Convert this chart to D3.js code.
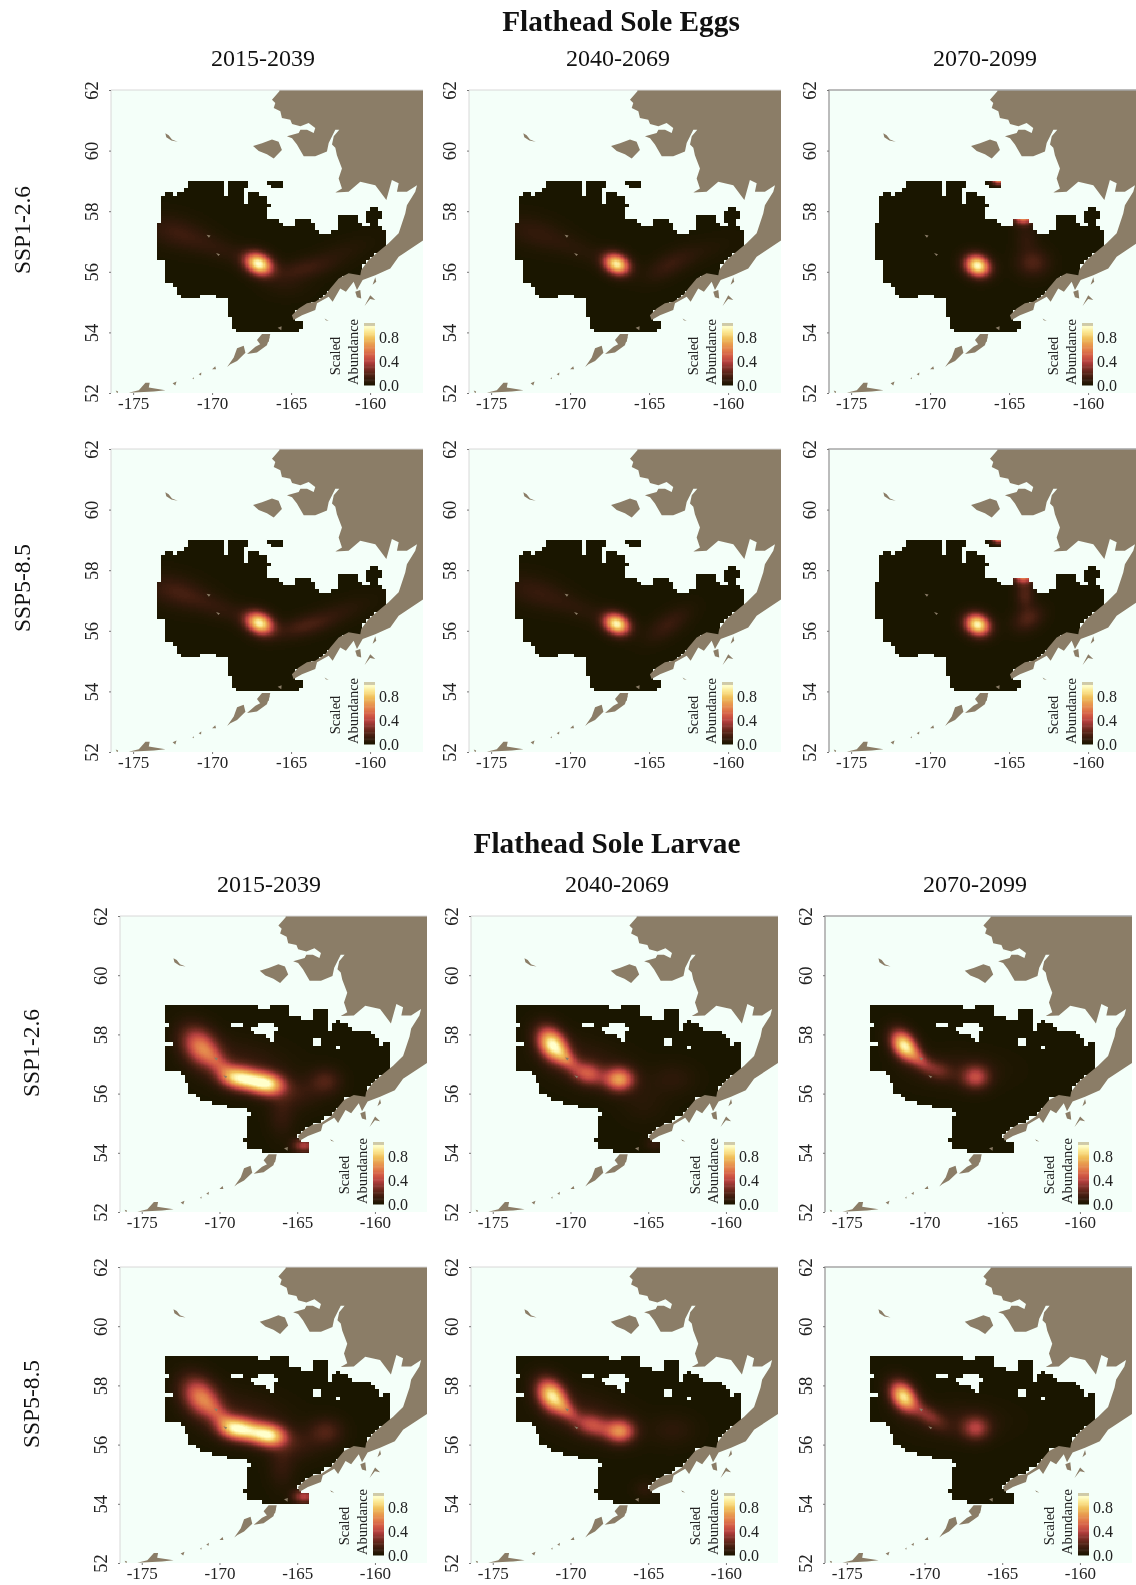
<!DOCTYPE html>
<html>
<head>
<meta charset="UTF-8">
<title>Flathead Sole</title>
<script src="https://cdn.jsdelivr.net/npm/d3@7"></script>
<style>
  html, body { margin: 0; background: #fff; }
  svg { display: block; filter: blur(0.4px); font-family: "Liberation Serif", serif; }
</style>
</head>
<body>
<div id="chart"></div>
<script>
const periods = ["2015-2039", "2040-2069", "2070-2099"];
const scenarios = ["SSP1-2.6", "SSP5-8.5"];
const lonTicks = [-175, -170, -165, -160];
const latTicks = [52, 54, 56, 58, 60, 62];
const legendTicks = [0, 0.4, 0.8];

// colours of the bar, low to high
const rampColours = ["#1a1600", "#33190b", "#552416", "#82302a", "#b5413f", "#d35a45", "#e17c4b", "#e89e50", "#f0c05a", "#fbe58e", "#ffffcc"];

// land, lon/lat
const mainland = [[-165.74,62.2],[-165.74,61.96],[-166.21,61.68],[-166,61.57],[-166.1,61.41],[-165.68,61.3],[-165.58,61.08],[-165.05,61.02],[-164.94,60.88],[-164.41,60.8],[-163.89,60.91],[-163.47,60.75],[-163.57,60.58],[-163.99,60.69],[-164.41,60.69],[-164.52,60.58],[-165.26,60.47],[-164.94,60.41],[-164.63,60.2],[-164.2,59.81],[-163.47,59.81],[-162.73,59.97],[-162.62,60.25],[-162.2,60.69],[-161.95,60.69],[-162.3,60.47],[-162.41,60.2],[-162.2,60.09],[-162.1,59.85],[-161.78,59.41],[-161.99,59.08],[-161.78,58.75],[-162.2,58.62],[-161.36,58.64],[-160.62,58.97],[-159.67,58.86],[-158.97,58.37],[-158.62,59.03],[-158.19,58.92],[-158.3,58.64],[-157.67,58.64],[-157.03,58.86],[-157.14,58.64],[-157.67,58.2],[-157.77,57.93],[-158.19,57.27],[-158.83,56.94],[-159.46,56.67],[-160.09,56.39],[-160.56,56.06],[-160.62,55.89],[-161.36,55.95],[-161.99,55.78],[-162.52,55.45],[-162.84,55.23],[-163.47,55.01],[-164,54.96],[-164.52,54.79],[-164.95,54.57],[-164.84,54.41],[-164.31,54.57],[-163.47,54.74],[-163.36,54.96],[-162.62,55.18],[-162.37,55.01],[-161.89,55.45],[-161.53,55.34],[-161.04,55.67],[-160.83,55.4],[-160.47,55.73],[-159.67,55.89],[-158.72,56.11],[-158.19,56.5],[-156.61,57.05],[-156,57.2],[-156,62.2]];
const islands = [
  [[-172.96,60.57],[-172.75,60.51],[-172.54,60.37],[-172.18,60.29],[-172.58,60.33],[-172.9,60.44]],
  [[-167.41,60.15],[-166.84,60.24],[-166.21,60.37],[-165.79,60.29],[-165.58,60.02],[-166.1,59.74],[-166.53,59.88],[-167.05,59.99]],
  [[-167.16,53.75],[-166.84,53.95],[-166.32,53.95],[-166.42,53.69],[-166.91,53.58]],
  [[-169.05,52.86],[-168.63,53.17],[-168.42,53.48],[-168,53.56],[-167.89,53.33],[-168.42,53.06],[-168.84,52.95]],
  [[-167.79,53.29],[-167.26,53.53],[-166.84,53.64],[-166.36,53.85],[-166.53,53.58],[-167.16,53.34]],
  [[-175.28,52.01],[-174.64,52.09],[-174.22,52.34],[-173.95,52.34],[-174.01,52.18],[-172.95,52.09],[-173.69,52.05]],
  [[-176.1,52.08],[-175.95,52.05],[-176.0,51.98]],
  [[-172.5,52.32],[-172.25,52.38],[-172.33,52.25]],
  [[-170.85,52.62],[-170.68,52.68],[-170.7,52.58]],
  [[-170.0,52.78],[-169.8,52.88],[-169.75,52.78]],
  [[-171.25,52.48],[-171.15,52.52],[-171.17,52.45]],
  [[-165.85,54.15],[-165.6,54.2],[-165.62,54.07]],
  [[-160.94,55.34],[-160.62,55.4],[-160.56,55.12],[-160.83,55.16]],
  [[-159.84,55.57],[-159.67,55.82],[-159.61,55.67]],
  [[-160.35,54.87],[-159.99,55.23],[-159.67,55.07],[-160,55.1]],
  [[-162.88,54.46],[-162.62,54.38],[-162.8,54.4]],
  [[-170.35,57.22],[-170.1,57.2],[-170.2,57.12]],
  [[-169.75,56.62],[-169.5,56.58],[-169.6,56.52]]
];

// model area, outlines of the gridded cells
const eggsArea = [
  [[-173.54,57.54],[-173.28,57.6],[-173.12,57.76],[-173.33,57.92],[-173.33,58.15],[-173.12,58.53],[-172.76,58.62],[-172.33,58.51],[-171.91,58.64],[-171.49,58.77],[-171.39,59],[-169.32,59],[-169.32,58.55],[-169.07,58.55],[-168.96,59],[-167.84,59],[-167.9,58.59],[-168.16,58.22],[-167.88,58.22],[-167.76,58.59],[-167.17,58.64],[-166.53,58.47],[-166.43,58.25],[-166.28,58.2],[-166.49,58.09],[-166.47,57.76],[-166.11,57.78],[-165.48,57.54],[-164.85,57.45],[-164.74,57.71],[-164.32,57.82],[-163.9,57.71],[-163.47,57.49],[-163.26,57.32],[-162.73,57.27],[-161.99,57.38],[-161.89,57.87],[-160.83,57.93],[-160.66,57.6],[-160.09,57.52],[-160.24,57.98],[-159.78,58.12],[-159.35,57.98],[-159.4,57.54],[-159.04,57.27],[-158.89,56.94],[-159.04,56.77],[-159.99,56.5],[-160.62,56.06],[-160.62,55.82],[-161.78,55.84],[-162.31,55.45],[-163.36,55.01],[-164.63,54.74],[-164.94,54.46],[-164.27,54.35],[-164.27,54.08],[-165.47,54.02],[-166.74,54],[-168.54,54.02],[-168.96,54.57],[-169.02,55.17],[-169.49,55.12],[-170.44,55.32],[-171.07,55.12],[-171.6,55.12],[-172.12,55.23],[-172.33,55.5],[-172.97,55.65],[-172.9,55.94],[-173.03,56.31],[-173.54,56.44]],
  [[-166.48,59],[-165.43,59],[-165.68,58.72],[-166.32,58.72]]
];
const eggsHoles = [];
const larvaeArea = [
  [[-173.51,59],[-169.5,59],[-168.96,58.95],[-166.7,58.93],[-166.49,59],[-165.41,59],[-165.41,58.64],[-164.55,58.53],[-163.9,58.48],[-163.9,58.9],[-163.25,58.93],[-162.93,58.64],[-162.87,58.02],[-162.82,58.25],[-162.39,58.48],[-161.75,58.36],[-161.21,58.08],[-160.45,58.11],[-159.91,58.02],[-159.85,57.69],[-160.13,57.52],[-158.94,57.8],[-158.88,56.79],[-159.7,56.56],[-160.56,56.11],[-160.56,55.83],[-161.85,55.89],[-162.39,55.49],[-163.58,55.04],[-164.76,54.76],[-164.98,54.48],[-164.22,54.36],[-164.29,54.03],[-165.84,54.03],[-166.92,54],[-168.32,54.2],[-168.43,54.48],[-168.21,54.76],[-168.21,55.21],[-167.67,55.38],[-168.43,55.46],[-169.5,55.55],[-171.01,55.77],[-171.66,56],[-171.98,56.05],[-172.09,56.39],[-172.63,56.73],[-173.51,56.76]]
];
const larvaeHoles = [
  [[-168.1,58.19],[-167.46,58.27],[-167.24,58.42],[-166.16,58.27],[-166.49,58.08],[-166.38,57.74],[-165.52,57.66],[-166.7,57.8],[-167.24,58.02],[-168.1,58.11]],
  [[-169.3,58.25],[-168.6,58.25],[-168.6,58.38],[-169.3,58.38]],
  [[-163.92,57.68],[-163.55,57.68],[-163.55,57.84],[-163.92,57.84]],
  [[-162.62,57.5],[-162.26,57.5],[-162.26,57.65],[-162.62,57.65]],
  [[-173.6,57.62],[-173,57.62],[-173,57.72],[-173.6,57.72]],
  [[-173.6,58.26],[-173.3,58.26],[-173.3,58.36],[-173.6,58.36]]
];

// abundance peaks: lon, lat, value, spread along, spread across, tilt
const eggs126a = [[-167.05,56.26,.98,.62,.46,-25],[-172.3,57.3,.11,1.4,.7,-15],[-169.5,56.75,.07,1.8,.5,-20],[-164.2,56.1,.11,1.3,.45,10],[-162,56.6,.05,1.6,.5,20],[-165.3,55.6,.05,1,.6,0]];
const eggs126b = [[-167.05,56.25,.92,.58,.44,-25],[-172.3,57.3,.08,1.4,.7,-15],[-169.5,56.75,.05,1.8,.5,-20],[-163.8,56.2,.1,1.1,.5,30],[-162,56.6,.04,1.6,.5,20]];
const eggs126c = [[-167,56.2,.98,.56,.46,-25],[-163.5,56.3,.18,.7,.6,0],[-163.9,57.1,.08,.5,.6,0],[-164.1,57.85,.75,.42,.36,0],[-165.65,59.05,.75,.3,.22,0]];
const eggs585a = [[-167,56.25,.93,.62,.46,-25],[-172.3,57.3,.13,1.4,.7,-15],[-169.5,56.75,.08,1.8,.5,-20],[-164.2,56.15,.14,1.3,.45,15],[-162,56.6,.06,1.6,.5,20]];
const eggs585b = [[-167.05,56.22,.95,.58,.44,-25],[-172.3,57.3,.09,1.4,.7,-15],[-169.5,56.75,.06,1.8,.5,-20],[-163.8,56.2,.12,1.1,.5,35]];
const eggs585c = [[-167,56.2,.96,.56,.46,-25],[-163.8,56.4,.18,.7,.5,30],[-164,57.2,.18,.4,.6,0],[-164.1,57.85,.68,.42,.36,0],[-165.65,59.05,.68,.3,.22,0]];

const larvae126a = [[-171.2,57.57,.58,1,.72,-50],[-168.8,56.53,.8,.8,.52,-8],[-166.9,56.32,.86,.75,.52,-8],[-167.85,56.43,.26,.6,.5,-8],[-170,57,.22,.8,.42,-45],[-168.5,57,.1,2,1,-10],[-163.2,56.41,.18,.7,.6,0],[-165,56,.1,1,.7,0],[-166,55.3,.1,.6,1,0],[-164.55,54.25,.38,.5,.32,0]];
const larvae126b = [[-171.15,57.65,.96,.82,.58,-55],[-168.9,56.67,.42,.7,.5,-15],[-166.86,56.48,.66,.66,.54,0],[-170.2,57.15,.3,.6,.36,-45],[-163.4,56.5,.07,1,.7,0],[-169,57,.1,2,1,-15],[-165.3,55.7,.05,1,.9,0],[-164.6,54.3,.1,.4,.3,0]];
const larvae126c = [[-171.3,57.62,.94,.72,.5,-55],[-169.2,56.8,.2,.7,.42,-20],[-166.7,56.55,.4,.62,.54,0],[-170.3,57.15,.28,.6,.36,-45],[-168,56.8,.08,2,.8,0]];
const larvae585a = [[-171.2,57.6,.58,1,.72,-50],[-168.9,56.54,.86,.8,.52,-8],[-166.8,56.31,.88,.75,.52,-8],[-167.85,56.43,.26,.6,.5,-8],[-170,57,.22,.8,.42,-45],[-168.5,57,.1,2,1,-10],[-163.15,56.43,.18,.75,.62,0],[-165,56,.1,1,.7,0],[-166,55.3,.1,.6,1,0],[-164.55,54.25,.4,.5,.32,0]];
const larvae585b = [[-171.2,57.65,.88,.8,.58,-55],[-168.6,56.65,.38,.8,.5,-15],[-166.8,56.45,.6,.66,.54,0],[-170.2,57.15,.28,.6,.36,-45],[-163.4,56.5,.07,1,.7,0],[-169,57,.1,2,1,-15],[-165.2,54.5,.07,.5,.4,0]];
const larvae585c = [[-171.35,57.62,.88,.72,.52,-55],[-169.8,57,.26,.9,.4,-35],[-166.7,56.55,.36,.62,.54,0],[-168,56.8,.08,2,.8,0]];

const width = 1136, height = 1585;
const lonDomain = [-176.4, -156.65], latDomain = [52, 62];
const lonStep = 0.25, latStep = 0.125, sub = 3;

const blocks = [
  {title: "Flathead Sole Eggs", titleX: 621, titleY: 31, colY: 66,
   colX: [263, 618, 985], area: eggsArea, holes: eggsHoles,
   left: [111, 469, 829], widths: 312, labelX: 22,
   rows: [{top: 90, bottom: 393, labelY: 230, panels: [eggs126a, eggs126b, eggs126c]},
          {top: 449, bottom: 752, labelY: 588, panels: [eggs585a, eggs585b, eggs585c]}]},
  {title: "Flathead Sole Larvae", titleX: 607, titleY: 853, colY: 892,
   colX: [269, 617, 975], area: larvaeArea, holes: larvaeHoles,
   left: [120, 471, 825], widths: 307, labelX: 31,
   rows: [{top: 916, bottom: 1212, labelY: 1053, panels: [larvae126a, larvae126b, larvae126c]},
          {top: 1267, bottom: 1563, labelY: 1404, panels: [larvae585a, larvae585b, larvae585c]}]}
];

const colour = d3.scaleLinear().domain(d3.range(rampColours.length).map(d => d / 10)).range(rampColours).clamp(true);

function field(peaks, lon, lat) {
  let v = 0;
  for (const p of peaks) {
    const a = p[5] * Math.PI / 180, dx = lon - p[0], dy = (lat - p[1]) * 1.92;
    const u = (dx * Math.cos(a) + dy * Math.sin(a)) / p[3];
    const w = (-dx * Math.sin(a) + dy * Math.cos(a)) / p[4];
    v += p[2] * Math.exp(-0.5 * (u * u + w * w));
  }
  return Math.min(v, 1);
}

function inArea(area, holes, lon, lat) {
  return area.some(a => d3.polygonContains(a, [lon, lat])) && !holes.some(h => d3.polygonContains(h, [lon, lat]));
}

const svg = d3.select("#chart").append("svg").attr("width", width).attr("height", height);
const line = d3.line().curve(d3.curveLinearClosed);
let clipId = 0;

function drawPanel(block, row, c) {
  const x = d3.scaleLinear().domain(lonDomain).range([block.left[c], block.left[c] + block.widths]);
  const y = d3.scaleLinear().domain(latDomain).range([row.bottom, row.top]);
  const id = "clip" + (clipId++);
  svg.append("clipPath").attr("id", id).append("rect")
    .attr("x", x.range()[0]).attr("y", row.top).attr("width", block.widths).attr("height", row.bottom - row.top);
  const g = svg.append("g");
  const map = g.append("g").attr("clip-path", "url(#" + id + ")");
  map.append("rect").attr("x", x.range()[0]).attr("y", row.top).attr("width", block.widths).attr("height", row.bottom - row.top).attr("fill", "#f4fff9");

  // abundance surface, one path per colour step
  const peaks = row.panels[c];
  const bins = new Map();
  const xEdge = i => Math.round(x(-176 + i * lonStep / sub));
  const yEdge = j => Math.round(y(53.75 + j * latStep / sub));
  for (let ci = 0; ci < 80; ci++) {
    const lon0 = -176 + ci * lonStep;
    for (let cj = 0; cj < 44; cj++) {
      const lat0 = 53.75 + cj * latStep;
      if (!inArea(block.area, block.holes, lon0 + lonStep / 2, lat0 + latStep / 2)) continue;
      for (let a = 0; a < sub; a++) for (let b = 0; b < sub; b++) {
        const ii = ci * sub + a, jj = cj * sub + b;
        const v = field(peaks, -176 + (ii + 0.5) * lonStep / sub, 53.75 + (jj + 0.5) * latStep / sub);
        const k = Math.round(v * 100);
        if (!bins.has(k)) bins.set(k, d3.path());
        const w = xEdge(ii + 1) - xEdge(ii), h = yEdge(jj) - yEdge(jj + 1);
        if (w > 0 && h > 0) bins.get(k).rect(xEdge(ii), yEdge(jj + 1), w, h);
      }
    }
  }
  map.selectAll("path.cell").data([...bins.entries()]).join("path").attr("class", "cell")
    .attr("d", d => d[1].toString()).attr("fill", d => colour(d[0] / 100)).attr("shape-rendering", "crispEdges");

  const toPx = pts => line(pts.map(p => [x(p[0]), y(p[1])]));
  map.selectAll("path.land").data([mainland].concat(islands)).join("path").attr("class", "land")
    .attr("d", toPx).attr("fill", "#8b7d67");

  // frame, only the left and top sides show in the picture
  const edge = c === 2 ? "#a6a6a6" : "#d8d8d8";
  g.append("path").attr("d", `M${x.range()[0]},${row.bottom}V${row.top}H${x.range()[1]}`).attr("fill", "none").attr("stroke", edge).attr("stroke-width", c === 2 ? 1.5 : 1);

  // axes
  const xAxis = g.append("g").attr("transform", `translate(0,${row.bottom})`)
    .call(d3.axisBottom(x).tickValues(lonTicks).tickSize(2).tickPadding(2).tickFormat(String));
  const yAxis = g.append("g").attr("transform", `translate(${x.range()[0]},0)`)
    .call(d3.axisLeft(y).tickValues(latTicks).tickSize(2).tickFormat(String));
  xAxis.select(".domain").remove();
  yAxis.select(".domain").remove();
  xAxis.selectAll("line").attr("stroke", "#777");
  yAxis.selectAll("line").attr("stroke", "#777");
  xAxis.selectAll("text").attr("font-family", "Liberation Serif").attr("font-size", 17).attr("fill", "#222");
  yAxis.selectAll("text").attr("font-family", "Liberation Serif").attr("font-size", 18.5).attr("fill", "#222")
    .attr("text-anchor", "middle").attr("dy", 0).attr("x", 0)
    .attr("transform", "translate(-13,0) rotate(-90)");

  // colour bar
  const barX = x.range()[0] + 253, barW = 11;
  const barY = d3.scaleLinear().domain([0, 1.05]).range([row.bottom - 8, row.bottom - 70]);
  g.selectAll("rect.bar").data(d3.range(0, 1, 0.02)).join("rect").attr("class", "bar")
    .attr("x", barX).attr("width", barW)
    .attr("y", d => barY(d + 0.02)).attr("height", d => barY(d) - barY(d + 0.02) + 0.5)
    .attr("fill", d => colour(d + 0.01));
  g.append("rect").attr("x", barX).attr("width", barW).attr("y", barY(1.05)).attr("height", barY(1) - barY(1.05)).attr("fill", "#cfcaa8");
  const legendAxis = g.append("g").attr("transform", `translate(${barX + barW},0)`)
    .call(d3.axisRight(barY).tickValues(legendTicks).tickSize(0).tickPadding(4).tickFormat(d3.format(".1f")));
  legendAxis.select(".domain").remove();
  legendAxis.selectAll("text").attr("font-family", "Liberation Serif").attr("font-size", 16).attr("fill", "#222");
  g.append("text").attr("transform", `translate(${x.range()[0] + 224},${row.bottom - 37}) rotate(-90)`)
    .attr("text-anchor", "middle").attr("dy", "0.35em").attr("font-size", 14.5).attr("fill", "#222").text("Scaled");
  g.append("text").attr("transform", `translate(${x.range()[0] + 242},${row.bottom - 41}) rotate(-90)`)
    .attr("text-anchor", "middle").attr("dy", "0.35em").attr("font-size", 14.5).attr("fill", "#222").text("Abundance");
}

blocks.forEach(block => {
  svg.append("text").attr("x", block.titleX).attr("y", block.titleY).attr("text-anchor", "middle")
    .attr("font-size", 29.3).attr("font-weight", "bold").attr("fill", "#111").text(block.title);
  periods.forEach((p, c) => {
    svg.append("text").attr("x", block.colX[c]).attr("y", block.colY).attr("text-anchor", "middle")
      .attr("font-size", 24).attr("fill", "#111").text(p);
  });
  block.rows.forEach((row, r) => {
    svg.append("text").attr("transform", `translate(${block.labelX},${row.labelY}) rotate(-90)`)
      .attr("text-anchor", "middle").attr("dy", "0.35em").attr("font-size", 23.5).attr("fill", "#111").text(scenarios[r]);
    periods.forEach((p, c) => drawPanel(block, row, c));
  });
});
</script>
</body>
</html>
